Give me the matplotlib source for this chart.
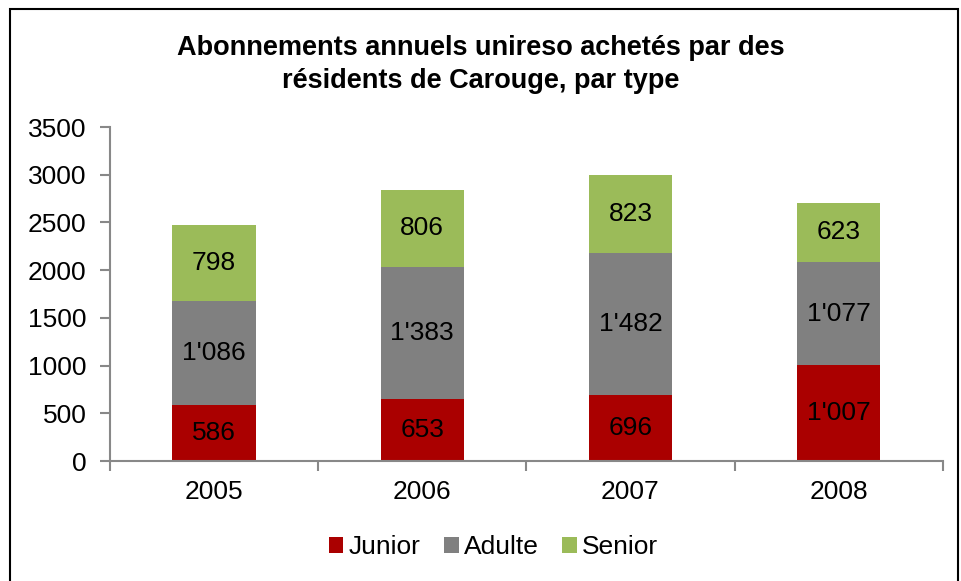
import matplotlib
matplotlib.use('Agg')
import matplotlib.pyplot as plt
from matplotlib.patches import Rectangle
import numpy as np

plt.rcParams['font.family'] = ['Liberation Sans', 'DejaVu Sans']

years = ['2005', '2006', '2007', '2008']
junior = [586, 653, 696, 1007]
adulte = [1086, 1383, 1482, 1077]
senior = [798, 806, 823, 623]
series_names = ['Junior', 'Adulte', 'Senior']
colors = ['#AA0000', '#808080', '#9BBB59']


def fmt(v):
    # swiss style thousands separator
    return f'{v:,}'.replace(',', "'")


fig = plt.figure(figsize=(9.62, 5.81), dpi=100)
ax = fig.add_axes([0.1143, 0.2065, 0.8657, 0.5749])

x = np.arange(len(years))
bottom = np.zeros(len(years))
for name, vals, col in zip(series_names, [junior, adulte, senior], colors):
    bars = ax.bar(x, vals, width=0.40, bottom=bottom, color=col, label=name)
    for b, v, y0 in zip(bars, vals, bottom):
        ax.text(b.get_x() + b.get_width() / 2, y0 + v / 2, fmt(v),
                ha='center', va='center', fontsize=19, color='black')
    bottom = bottom + np.array(vals)

ax.set_xlim(-0.5, len(years) - 0.5)
ax.set_ylim(0, 3500)
ax.set_yticks(range(0, 3501, 500))
ax.set_xticks(x)
ax.set_xticklabels(years)
ax.set_xticks(np.arange(-0.5, len(years), 1.0), minor=True)
ax.tick_params(axis='x', which='major', length=0, labelsize=19, pad=14)
ax.tick_params(axis='x', which='minor', length=7, color='#888888', width=1.5)
ax.tick_params(axis='y', length=7, color='#888888', width=1.5, labelsize=19, pad=10)

for s in ['top', 'right']:
    ax.spines[s].set_visible(False)
for s in ['left', 'bottom']:
    ax.spines[s].set_color('#888888')
    ax.spines[s].set_linewidth(1.5)

fig.text(0.5, 0.889, 'Abonnements annuels unireso achetés par des\nrésidents de Carouge, par type',
         ha='center', va='center', fontsize=19.5, fontweight='bold', linespacing=1.35)

fig.legend(loc='center', bbox_to_anchor=(0.513, 0.058), ncol=3, frameon=False,
           fontsize=19, handlelength=0.55, handleheight=0.55, handletextpad=0.2,
           columnspacing=0.9)

fig.patches.append(Rectangle((10 / 962, -0.01), 948 / 962, 1 - 9 / 581 + 0.01,
                             transform=fig.transFigure, fill=False,
                             edgecolor='black', linewidth=1.5))

fig.savefig('out.png', dpi=100)
